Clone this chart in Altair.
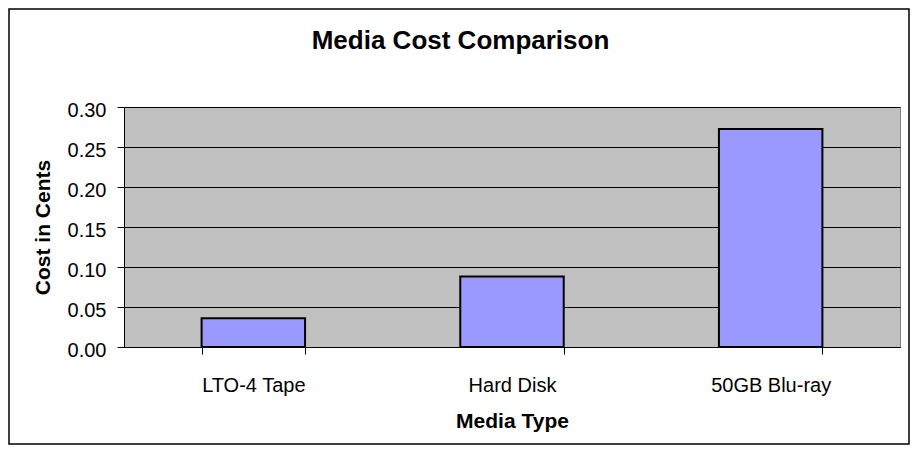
import altair as alt
import pandas as pd

categories = ["LTO-4 Tape", "Hard Disk", "50GB Blu-ray"]
costs = [0.036, 0.088, 0.2725]
y_ticks = [0.0, 0.05, 0.10, 0.15, 0.20, 0.25, 0.30]
title_text = ["Media Cost Comparison"]

df = pd.DataFrame({"media": categories, "cost": costs})
tdf = pd.DataFrame({"t": title_text})

W, H = 776, 240
PL, PT, PR, PB = 116, 99, 10, 98
FONT = "Liberation Sans"

bars = alt.Chart(df).mark_bar(
    color="#9999FF", stroke="black", strokeWidth=2
).encode(
    x=alt.X("media:N", sort=categories, title="Media Type",
            scale=alt.Scale(paddingInner=0.6, paddingOuter=0.3),
            axis=alt.Axis(labelAngle=0, tickBand="extent", grid=False,
                          tickSize=7, tickColor="black", domainColor="black",
                          labelPadding=21, titlePadding=15,
                          labelFont=FONT, labelFontSize=20,
                          labelColor="black", titleFont=FONT,
                          titleFontSize=21, titleFontWeight="bold",
                          titleColor="black")),
    y=alt.Y("cost:Q", title="Cost in Cents",
            scale=alt.Scale(domain=[0, 0.3], nice=False),
            axis=alt.Axis(values=y_ticks, format=".2f", grid=True,
                          gridColor="black", gridOpacity=1, gridWidth=1,
                          tickSize=7, tickColor="black", domainColor="black",
                          labelPadding=11, titlePadding=14, labelOffset=3,
                          labelFont=FONT, labelFontSize=20,
                          labelColor="black", titleFont=FONT,
                          titleFontSize=21, titleFontWeight="bold",
                          titleColor="black")),
)

title = alt.Chart(tdf).mark_text(
    font=FONT, fontSize=26, fontWeight="bold", color="black",
    align="center", baseline="alphabetic", clip=False
).encode(
    text="t:N", x=alt.value(336.5), y=alt.value(-58),
)

border = alt.Chart(tdf).mark_rect(
    fill=None, stroke="black", strokeWidth=1.5, clip=False
).encode(
    x=alt.value(-PL + 1), x2=alt.value(W + PR - 1),
    y=alt.value(-PT + 1), y2=alt.value(H + PB - 1),
)

chart = alt.layer(bars, title, border).properties(
    width=W, height=H,
    autosize=alt.AutoSizeParams(type="none"),
    padding={"left": PL, "top": PT, "right": PR, "bottom": PB},
    background="white",
).configure_view(
    fill="#C0C0C0", stroke="#808080"
)

chart.save("out.html", embed_options={"renderer": "svg", "actions": False})
